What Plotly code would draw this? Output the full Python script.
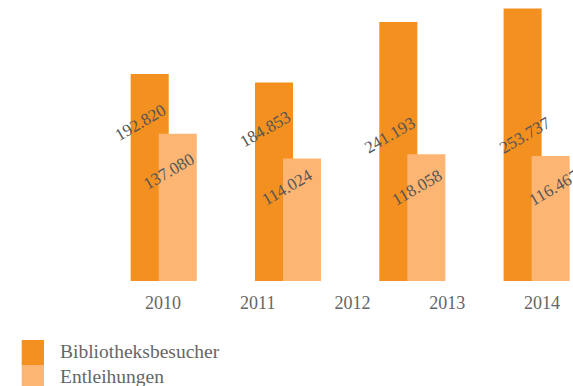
import plotly.graph_objects as go

# Data
years_with_data = ["2010", "2011", "2013", "2014"]
axis_years = ["2010", "2011", "2012", "2013", "2014"]
besucher = [192820, 184853, 241193, 253737]
entleihungen = [137080, 114024, 118058, 116467]
series_names = ["Bibliotheksbesucher", "Entleihungen"]
series_colors = ["#F4901F", "#FDB574"]

# Placement of the rotated value labels (data-unit heights, pixel x shifts)
label_y_besucher = [147100, 140600, 135900, 135900]
label_y_entleih = [102400, 86600, 86600, 86600]
label_dx_besucher = [-23, -23, -23, -12]
label_dx_entleih = [5, -1, 5, 18]

W, H = 573, 386
PLOT_H = 281  # plot area height in pixels (top margin 0)
Y_MAX = 261600

FONT = "Liberation Serif, Times New Roman, serif"


def de_num(v):
    return f"{v:,}".replace(",", ".")


def py_to_paper(py):
    return (PLOT_H - py) / PLOT_H


fig = go.Figure()

fig.add_trace(go.Bar(
    x=years_with_data, y=besucher, name=series_names[0],
    marker=dict(color=series_colors[0], line=dict(width=0)),
    offset=-0.2656, width=0.306, hoverinfo="skip", showlegend=False,
))
fig.add_trace(go.Bar(
    x=years_with_data, y=entleihungen, name=series_names[1],
    marker=dict(color=series_colors[1], line=dict(width=0)),
    offset=-0.04, width=0.306, hoverinfo="skip", showlegend=False,
))
# carrier trace for the year axis
fig.add_trace(go.Scatter(
    x=axis_years, y=[0] * len(axis_years), xaxis="x2", mode="markers",
    marker=dict(opacity=0), hoverinfo="skip", showlegend=False,
))

annotations = []
for i, yr in enumerate(years_with_data):
    # category axes take the serial index of the category
    annotations.append(dict(
        x=i, y=label_y_besucher[i], xref="x", yref="y",
        text=de_num(besucher[i]), showarrow=False, textangle=-30,
        xshift=label_dx_besucher[i],
        font=dict(family=FONT, size=17, color="#555555"),
    ))
    annotations.append(dict(
        x=i, y=label_y_entleih[i], xref="x", yref="y",
        text=de_num(entleihungen[i]), showarrow=False, textangle=-30,
        xshift=label_dx_entleih[i],
        font=dict(family=FONT, size=17, color="#555555"),
    ))

# legend drawn by hand: tall colour blocks with text beside them
shapes = []
leg_top = 340
leg_h = 25
for k, (name, col) in enumerate(zip(series_names, series_colors)):
    y0 = leg_top + k * leg_h
    shapes.append(dict(
        type="rect", xref="paper", yref="paper",
        x0=21.7 / W, x1=44 / W,
        y0=py_to_paper(y0 + leg_h), y1=py_to_paper(y0),
        fillcolor=col, line=dict(width=0),
    ))
    annotations.append(dict(
        x=58 / W, y=py_to_paper(y0 + leg_h / 2 - 1), xref="paper", yref="paper",
        text=name, showarrow=False, xanchor="left", yanchor="middle",
        font=dict(family=FONT, size=19.5, color="#666666"),
    ))

fig.update_layout(
    width=W, height=H,
    margin=dict(l=0, r=0, t=0, b=H - PLOT_H, pad=0),
    paper_bgcolor="white", plot_bgcolor="white",
    barmode="overlay",
    showlegend=False,
    xaxis=dict(
        type="category", categoryorder="array", categoryarray=years_with_data,
        range=[-163.7 / 124.3, (W - 163.7) / 124.3],
        showticklabels=False, showgrid=False, zeroline=False, showline=False,
        ticks="",
    ),
    xaxis2=dict(
        type="category", categoryorder="array", categoryarray=axis_years,
        overlaying="x", side="bottom",
        range=[-163 / 94.75, (W - 163) / 94.75],
        showgrid=False, zeroline=False, showline=False,
        ticks="outside", ticklen=5, tickcolor="rgba(0,0,0,0)",
        tickfont=dict(family=FONT, size=18, color="#666666"),
    ),
    yaxis=dict(
        range=[0, Y_MAX], visible=False, showgrid=False, zeroline=False,
    ),
    annotations=annotations,
    shapes=shapes,
)

fig.write_html("out.html")
